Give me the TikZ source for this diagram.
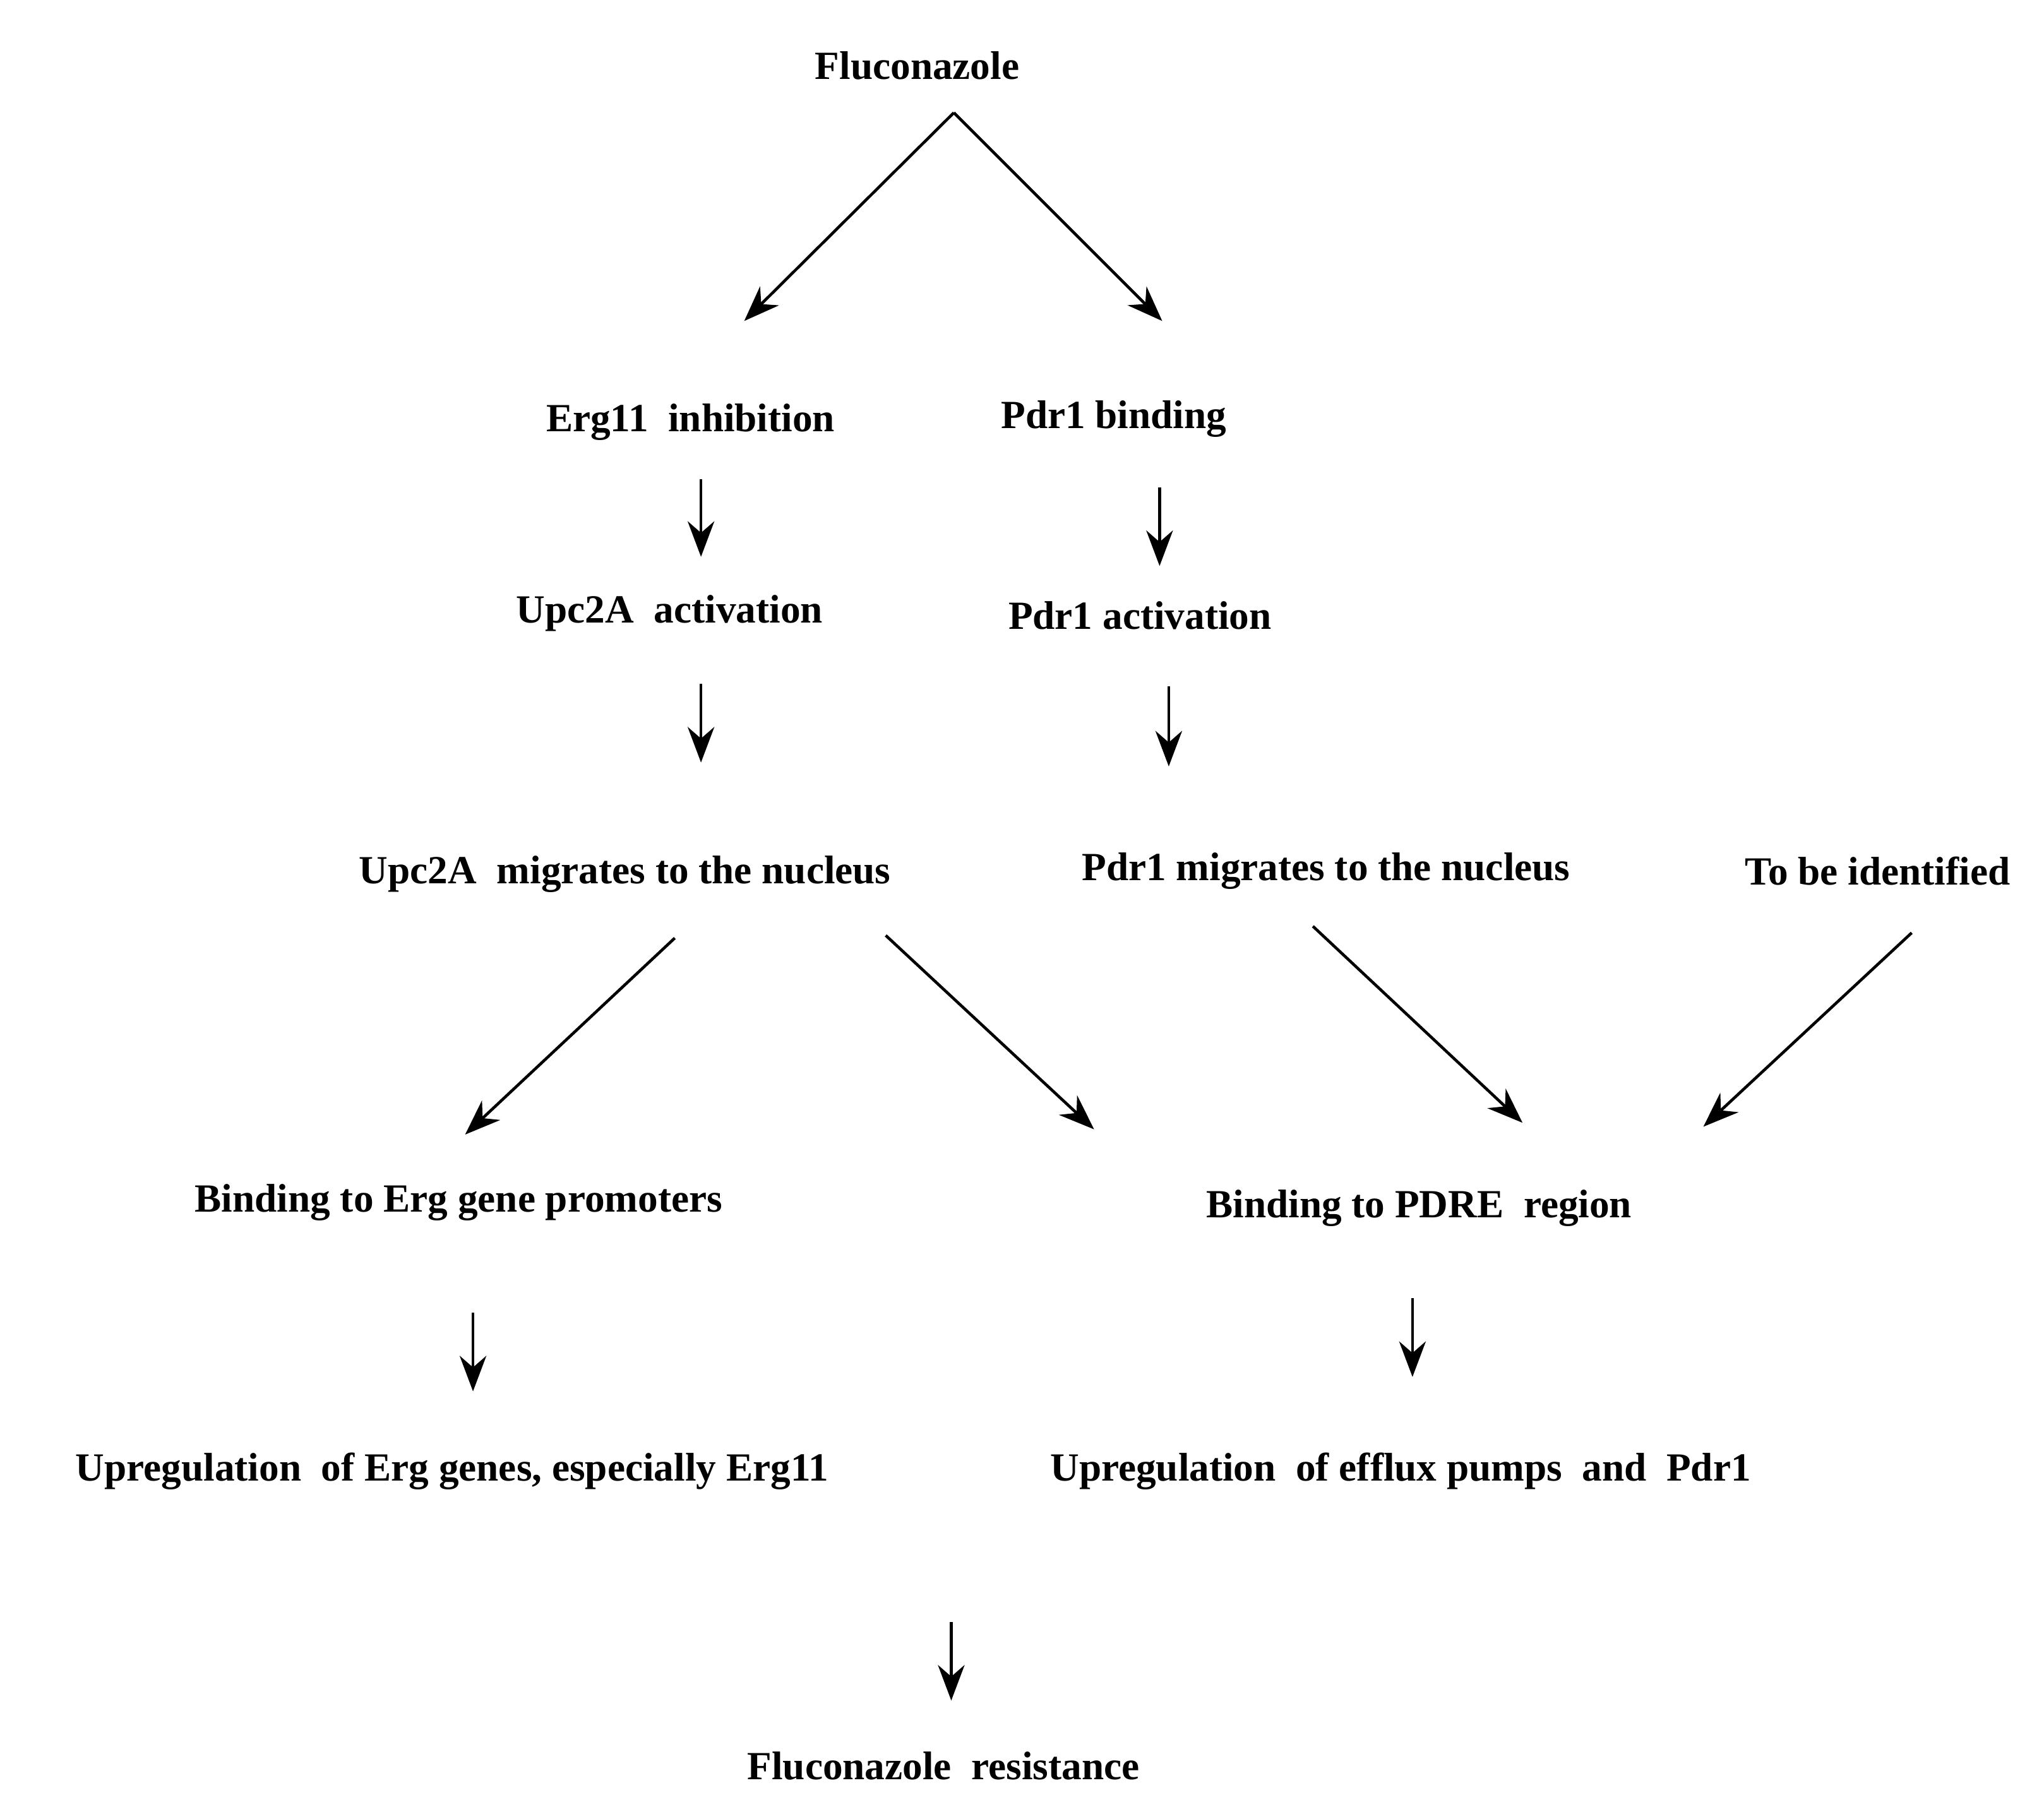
\documentclass[tikz,border=0pt]{standalone}
\usepackage{fontspec}
\setmainfont{Liberation Serif}
\usetikzlibrary{arrows.meta}
\begin{document}
\begin{tikzpicture}[x=0.02075cm,y=-0.02075cm,
  lbl/.style={font=\fontsize{18}{20}\selectfont\bfseries, inner sep=0pt},
  arr/.style={line width=1.3pt,-{Stealth[length=16pt,width=12pt]}}]
\useasboundingbox (0,0) rectangle (1560,1379);
\node[lbl] (flu) at (700,50) {Fluconazole};
\node[lbl] (erg) at (527,322) {Erg11\ \ inhibition};
\node[lbl] (pb) at (850,320) {Pdr1\ binding};
\node[lbl] (ua) at (511,468) {Upc2A\ \ activation};
\node[lbl] (pa) at (870,470) {Pdr1\ activation};
\node[lbl] (um) at (477,667) {Upc2A\ \ migrates\ to\ the\ nucleus};
\node[lbl] (pm) at (1012,665) {Pdr1\ migrates\ to\ the\ nucleus};
\node[lbl] (tbi) at (1433,665) {To\ be\ identified};
\node[lbl] (be) at (350,918) {Binding\ to\ Erg\ gene\ promoters};
\node[lbl] (bp) at (1083,922) {Binding\ to\ PDRE\ \ region};
\node[lbl] (ue) at (345,1123) {Upregulation\ \ of Erg\ genes, especially Erg11};
\node[lbl] (up) at (1069,1123) {Upregulation\ \ of efflux pumps\ \ and\ \ Pdr1};
\node[lbl] (fr) at (720,1348) {Fluconazole\ \ resistance};
\coordinate (a0) at (728,86);
\coordinate (a1) at (568,245); \coordinate (a2) at (887,245);
\coordinate (b0) at (535,366); \coordinate (b1) at (535,425);
\coordinate (c0) at (885,372); \coordinate (c1) at (885,432);
\coordinate (d0) at (535,522); \coordinate (d1) at (535,582);
\coordinate (e0) at (892,524); \coordinate (e1) at (892,585);
\coordinate (f0) at (515,716); \coordinate (f1) at (355,866);
\coordinate (g0) at (676,714); \coordinate (g1) at (835,862);
\coordinate (h0) at (1002,707); \coordinate (h1) at (1162,857);
\coordinate (i0) at (1459,712); \coordinate (i1) at (1300,860);
\coordinate (j0) at (361,1002); \coordinate (j1) at (361,1062);
\coordinate (k0) at (1078,991); \coordinate (k1) at (1078,1051);
\coordinate (l0) at (726,1238); \coordinate (l1) at (726,1298);
\draw[arr] (a0) -- (a1); \draw[arr] (a0) -- (a2);
\draw[arr] (b0) -- (b1); \draw[arr] (c0) -- (c1);
\draw[arr] (d0) -- (d1); \draw[arr] (e0) -- (e1);
\draw[arr] (f0) -- (f1); \draw[arr] (g0) -- (g1);
\draw[arr] (h0) -- (h1); \draw[arr] (i0) -- (i1);
\draw[arr] (j0) -- (j1); \draw[arr] (k0) -- (k1);
\draw[arr] (l0) -- (l1);
\end{tikzpicture}
\end{document}
